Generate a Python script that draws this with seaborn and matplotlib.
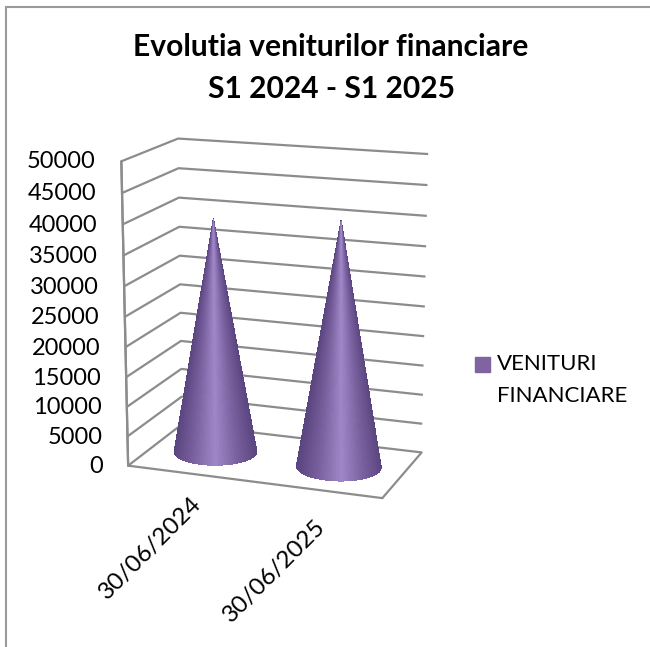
import numpy as np
import matplotlib
matplotlib.use("Agg")
import matplotlib.pyplot as plt
import seaborn as sns
from matplotlib.colors import LinearSegmentedColormap
from matplotlib.lines import Line2D
from matplotlib.patches import Rectangle

dates = ["30/06/2024", "30/06/2025"]
venituri = [39500, 40800]
value_ticks = [0, 5000, 10000, 15000, 20000, 25000, 30000, 35000, 40000, 45000, 50000]
series_name = "VENITURI\nFINANCIARE"
title = "Evolutia veniturilor financiare\nS1 2024 - S1 2025"

sns.set_theme(style="white")
plt.rcParams["font.family"] = ["Lato", "DejaVu Sans"]

GRAY = "#8c8c8c"
PURPLE = "#8064a2"
W, H = 650, 647
ASPECT = (0.86, 0.45, 1.0)

fig = plt.figure(figsize=(W / 100, H / 100), dpi=100)
fig.patch.set_facecolor("white")

# chart frame, only top and left are visible in the reference
fig.add_artist(Line2D([6 / W, 6 / W], [0, 1 - 7 / H], color="#9a9a9a", lw=1.5))
fig.add_artist(Line2D([6 / W, 1], [1 - 7 / H, 1 - 7 / H], color="#9a9a9a", lw=1.5))

ax = fig.add_axes([-0.0355, 0.1075, 0.9, 0.8], projection="3d")
ax.patch.set_alpha(0)
ax.set_proj_type("persp", focal_length=0.65)
ax.view_init(elev=15, azim=-70)
ax.set_box_aspect(ASPECT, zoom=0.815)
ax.set_xlim(0, 2)
ax.set_ylim(0, 1)
ax.set_zlim(0, 50000)

ax.set_xticks([])
ax.set_yticks([])
ax.set_zticks(value_ticks)
ax.tick_params(axis="z", labelsize=17, pad=8, colors="black")
for lab in ax.get_zticklabels():
    lab.set_ha("right")
    lab.set_va("center")

for axis in (ax.xaxis, ax.yaxis, ax.zaxis):
    axis.set_pane_color((1, 1, 1, 0))
    axis.pane.set_edgecolor((1, 1, 1, 0))
    axis.line.set_color(GRAY)
    axis.line.set_linewidth(1.6)
    axis._axinfo["grid"]["color"] = GRAY
    axis._axinfo["grid"]["linewidth"] = 1.6
    axis._axinfo["tick"]["inward_factor"] = 0
    axis._axinfo["tick"]["outward_factor"] = 0
ax.zaxis._axinfo["juggled"] = (1, 2, 0)
ax.grid(True)
ax.margins(0)

# the moved z axis loses its line, so draw the front left edge
ax.plot([0, 0], [0, 0], [value_ticks[0], value_ticks[-1]], color=GRAY, lw=1.6)

# cones, shaded by hand so the light band stays in the middle
shade = LinearSegmentedColormap.from_list("cone", ["#5a4580", "#7a619f", "#9e85c6"])
theta = np.linspace(0, 2 * np.pi, 181)
view = np.deg2rad(-70)
radius_x = 0.32
radius_y = 0.31 * (ASPECT[0] / 2) / ASPECT[1]
for i, val in enumerate(venituri):
    t, h = np.meshgrid(theta, np.linspace(0, 1, 2))
    xs = i + 0.5 + radius_x * (1 - h) * np.cos(t)
    ys = 0.5 + radius_y * (1 - h) * np.sin(t)
    zs = h * val
    front = np.clip(np.cos(t[:-1, :-1] - view), 0, 1)
    ax.plot_surface(xs, ys, zs, facecolors=shade(1 - np.sqrt(1 - front ** 2)), shade=False, linewidth=0, antialiased=False, rcount=2, ccount=181)

for x, y, lab in zip([191, 315], [493, 516], dates):
    fig.text(x / W, 1 - y / H, lab, rotation=45, ha="right", va="top", rotation_mode="anchor", fontsize=17.5, color="black")

fig.text(331 / W, 1 - 68 / H, title, ha="center", va="center", fontsize=21.6, fontweight="bold", color="black", linespacing=1.6)

fig.add_artist(Rectangle((475 / W, 1 - 372 / H), 15 / W, 15 / H, color=PURPLE, transform=fig.transFigure))
fig.text(497 / W, 1 - 380 / H, series_name, ha="left", va="center", fontsize=16, color="black", linespacing=1.76)

plt.savefig("out.png", dpi=100)
